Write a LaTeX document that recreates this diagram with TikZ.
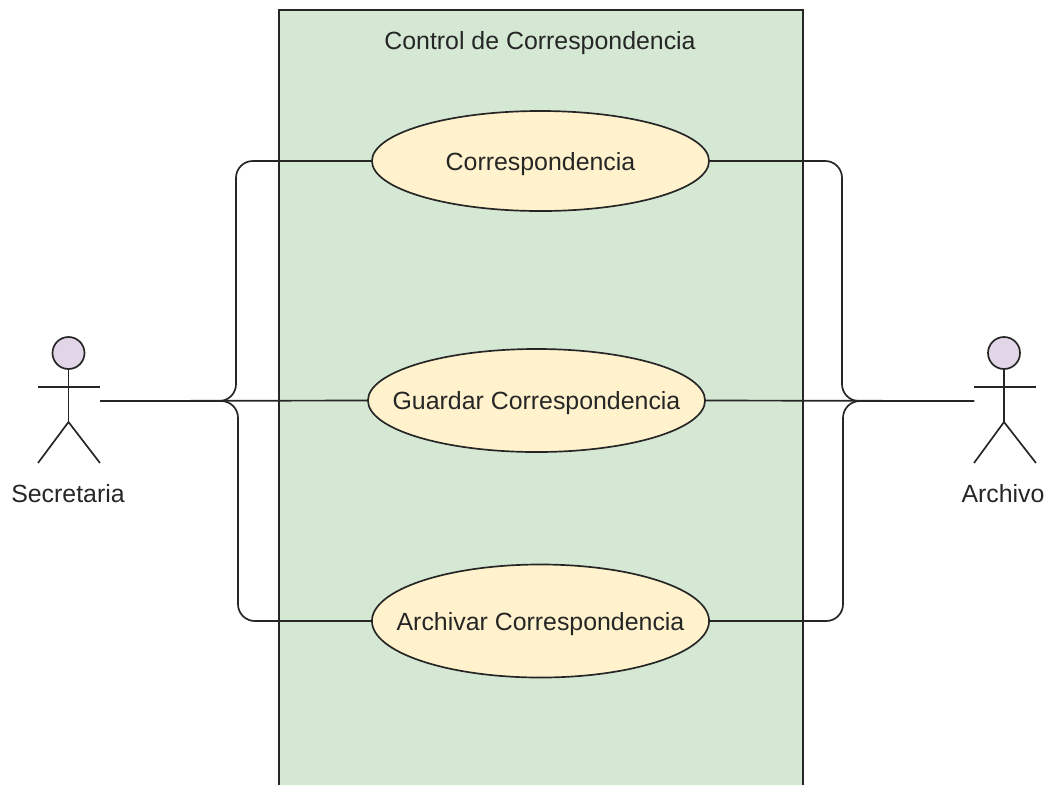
\documentclass[tikz,border=0pt]{standalone}
\usepackage{fontspec}
\setmainfont{Liberation Sans}
\usetikzlibrary{shapes.geometric}
\definecolor{boxgreen}{HTML}{D5E8D4}
\definecolor{caseyellow}{HTML}{FFF2CC}
\definecolor{headpurple}{HTML}{E1D5E7}
\definecolor{inkgrey}{HTML}{262626}
\tikzstyle{usecase}=[ellipse,draw=inkgrey,fill=caseyellow,line width=1.2pt,inner ysep=0pt,inner xsep=-0.8cm,outer sep=0pt,text=inkgrey,text depth=0pt,font=\fontsize{17.7}{20}\selectfont]
\tikzstyle{head}=[circle,draw=inkgrey,fill=headpurple,line width=1.2pt,minimum size=0.8cm,inner sep=0pt,outer sep=0pt]
\tikzstyle{limb}=[draw=inkgrey,line width=1.2pt]
\tikzstyle{conn}=[draw=inkgrey,line width=1.2pt,rounded corners=0.42cm]
\tikzstyle{lbl}=[text=inkgrey,inner sep=0pt,text depth=0pt,font=\fontsize{17.7}{20}\selectfont]
\begin{document}
\begin{tikzpicture}[x=0.025cm,y=-0.025cm]
  \useasboundingbox (0,0) rectangle (1049,785);
  % System box
  \fill[boxgreen] (279,10) rectangle (803,785);
  \draw[limb] (279,785) -- (279,10) -- (803,10) -- (803,785);
  \node[lbl](title) at (540,40) {Control de Correspondencia};

  % Actors
  \node[head](sechead) at (68.5,353) {};
  \node[head](archead) at (1004,353) {};
  \coordinate (sechip) at (68.5,422);
  \coordinate (archip) at (1004,422);
  \draw[limb] (sechead.south) -- (sechip);
  \draw[limb] (38,387) -- (100,387);
  \draw[limb] (38,463) -- (sechip) -- (100,463);
  \draw[limb] (archead.south) -- (archip);
  \draw[limb] (974,387) -- (1036,387);
  \draw[limb] (974,463) -- (archip) -- (1036,463);
  \node[lbl](secretaria) at (68,493) {Secretaria};
  \node[lbl](archivo) at (1003,493) {Archivo};
  \coordinate (sechand) at (100,401);
  \coordinate (archand) at (974,401);

  % Use cases
  \node[usecase,minimum width=8.425cm,minimum height=2.5cm](corr) at (540.5,161) {Correspondencia};
  \node[usecase,minimum width=8.425cm,minimum height=2.575cm](guard) at (536.5,400.5) {Guardar Correspondencia};
  \node[usecase,minimum width=8.425cm,minimum height=2.825cm](archv) at (540.5,621) {Archivar Correspondencia};

  % Connectors
  \draw[conn] (sechand) -- (236,401) -- (236,161) -- (corr.west);
  \draw[conn] (sechand) -- (238,401) -- (238,621) -- (archv.west);
  \draw[limb] (sechand) -- (guard.west);
  \draw[conn] (corr.east) -- (842,161) -- (842,401) -- (archand);
  \draw[conn] (archv.east) -- (843,621) -- (843,401) -- (archand);
  \draw[limb] (guard.east) -- (archand);
\end{tikzpicture}
\end{document}
